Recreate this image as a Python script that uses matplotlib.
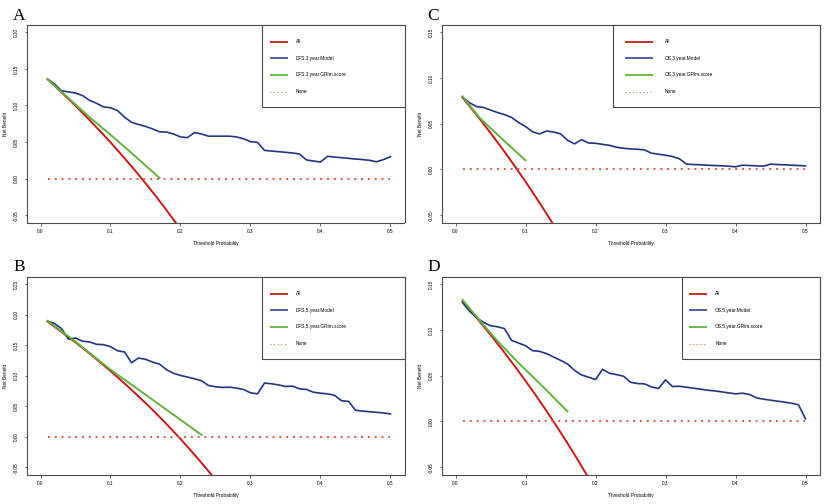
"""Decision curve analysis, four panels (DFS / OS at 3 and 5 years)."""

import matplotlib

matplotlib.use("Agg")
import matplotlib.pyplot as plt
from matplotlib.patches import Rectangle

plt.rcParams["font.family"] = ["Liberation Sans", "DejaVu Sans"]
plt.rcParams["axes.unicode_minus"] = False

# ---------------------------------------------------------------- data
thresholds = [
    0.01, 0.02, 0.03, 0.04, 0.05, 0.06, 0.07, 0.08, 0.09, 0.10,
    0.11, 0.12, 0.13, 0.14, 0.15, 0.16, 0.17, 0.18, 0.19, 0.20,
    0.21, 0.22, 0.23, 0.24, 0.25, 0.26, 0.27, 0.28, 0.29, 0.30,
    0.31, 0.32, 0.33, 0.34, 0.35, 0.36, 0.37, 0.38, 0.39, 0.40,
    0.41, 0.42, 0.43, 0.44, 0.45, 0.46, 0.47, 0.48, 0.49, 0.50,
]
none_x = [0.01, 0.50]
none_y = [0.0, 0.0]

# A: DFS 3 year
model_a = [
    0.136, 0.1295, 0.120, 0.1186, 0.117, 0.1136, 0.107, 0.103, 0.098, 0.097,
    0.093, 0.084, 0.077, 0.074, 0.0714, 0.068, 0.064, 0.0636, 0.061, 0.057,
    0.056, 0.063, 0.061, 0.058, 0.058, 0.058, 0.058, 0.057, 0.0545, 0.0505,
    0.0495, 0.0386, 0.0377, 0.0368, 0.036, 0.035, 0.0336, 0.0255, 0.024, 0.0227,
    0.0305, 0.0295, 0.0286, 0.0277, 0.0268, 0.026, 0.025, 0.023, 0.026, 0.030,
]
all_a_x = [0.01, 0.03, 0.05, 0.07, 0.10, 0.125, 0.1375, 0.15, 0.1625,
           0.175, 0.1875, 0.20]
all_a_y = [0.136, 0.118, 0.0996, 0.0802, 0.0496, 0.0224, 0.0083, -0.0064,
           -0.0213, -0.0368, -0.0528, -0.0693]
score_a_x = [0.01, 0.04, 0.07, 0.10, 0.13, 0.17]
score_a_y = [0.136, 0.110, 0.084, 0.060, 0.035, 0.001]
labels_a = ["All", "DFS.3.year.Model", "DFS.3.year.GRIm.score", "None"]

# B: DFS 5 year
model_b = [
    0.1896, 0.1857, 0.1775, 0.160, 0.162, 0.1566, 0.1555, 0.1516, 0.151, 0.1478,
    0.141, 0.139, 0.1214, 0.129, 0.127, 0.1225, 0.119, 0.110, 0.104, 0.1005,
    0.0978, 0.095, 0.0918, 0.084, 0.0819, 0.0808, 0.0813, 0.0797, 0.0775, 0.072,
    0.0703, 0.088, 0.0868, 0.085, 0.0824, 0.083, 0.0786, 0.0775, 0.073, 0.0714,
    0.0703, 0.068, 0.059, 0.058, 0.0434, 0.042, 0.041, 0.040, 0.039, 0.0374,
]
all_b_x = [0.01, 0.05, 0.075, 0.10, 0.125, 0.15, 0.1625, 0.175, 0.1875,
           0.20, 0.2125, 0.225, 0.2375, 0.25]
all_b_y = [0.189, 0.1547, 0.1319, 0.1078, 0.0823, 0.0553, 0.0412, 0.0267,
           0.0117, -0.0038, -0.0197, -0.0361, -0.0531, -0.0707]
score_b_x = [0.01, 0.05, 0.10, 0.15, 0.19, 0.23]
score_b_y = [0.190, 0.156, 0.110, 0.069, 0.036, 0.003]
labels_b = ["All", "DFS.5.year.Model", "DFS.5.year.GRIm.score", "None"]

# C: OS 3 year
model_c = [
    0.079, 0.073, 0.0688, 0.0678, 0.065, 0.0623, 0.060, 0.057, 0.0514, 0.047,
    0.0413, 0.0388, 0.042, 0.041, 0.039, 0.032, 0.028, 0.0326, 0.029, 0.0286,
    0.0275, 0.0264, 0.0243, 0.0232, 0.0225, 0.0221, 0.0214, 0.0178, 0.0167, 0.0156,
    0.0141, 0.0116, 0.0058, 0.0054, 0.0051, 0.0047, 0.0043, 0.004, 0.0036, 0.0029,
    0.0047, 0.0043, 0.004, 0.0036, 0.0058, 0.0054, 0.0051, 0.0047, 0.0043, 0.004,
]
all_c_x = [0.01, 0.03, 0.05, 0.07, 0.08, 0.09, 0.10, 0.11, 0.12, 0.13,
           0.14, 0.15]
all_c_y = [0.0788, 0.0598, 0.040, 0.0194, 0.0087, -0.0022, -0.0133, -0.0247,
           -0.0364, -0.0483, -0.0605, -0.073]
score_c_x = [0.01, 0.035, 0.07, 0.10]
score_c_y = [0.080, 0.056, 0.031, 0.010]
labels_c = ["All", "OS.3.year.Model", "OS.3.year.GRIm.score", "None"]

# D: OS 5 year
model_d = [
    0.130, 0.1207, 0.1135, 0.1084, 0.1047, 0.1036, 0.1015, 0.0887, 0.0858, 0.0829,
    0.0775, 0.0767, 0.0742, 0.0705, 0.0669, 0.0629, 0.056, 0.0509, 0.0484, 0.0458,
    0.0571, 0.0527, 0.0513, 0.0495, 0.0429, 0.0415, 0.0411, 0.0378, 0.036, 0.0455,
    0.0382, 0.0385, 0.0375, 0.0364, 0.0353, 0.0342, 0.0335, 0.0324, 0.0313, 0.0302,
    0.0309, 0.0295, 0.0258, 0.0244, 0.0233, 0.0222, 0.0211, 0.020, 0.0182, 0.0029,
]
all_d_x = [0.01, 0.025, 0.04, 0.055, 0.07, 0.085, 0.10, 0.115, 0.13,
           0.145, 0.16, 0.175, 0.19]
all_d_y = [0.1313, 0.1180, 0.1042, 0.0900, 0.0753, 0.0601, 0.0444, 0.0283,
           0.0115, -0.0059, -0.0238, -0.0424, -0.0617]
score_d_x = [0.01, 0.035, 0.06, 0.09, 0.125, 0.16]
score_d_y = [0.133, 0.110, 0.088, 0.064, 0.038, 0.011]
labels_d = ["All", "OS.5.year.Model", "OS.5.year.GRIm.score", "None"]

x_ticks = [0.0, 0.1, 0.2, 0.3, 0.4, 0.5]
y_ticks_a = [-0.05, 0.00, 0.05, 0.10, 0.15, 0.20]
y_ticks_b = [-0.05, 0.00, 0.05, 0.10, 0.15, 0.20, 0.25]
y_ticks_cd = [-0.05, 0.00, 0.05, 0.10, 0.15]

# ---------------------------------------------------------------- style
RED = "#CC1818"
BLUE = "#22367E"
GREEN = "#62B23E"
NONE_RED = "#E2574F"
FRAME = "#4A4A4A"
SMALL = 3.4

W, H = 824, 504


def draw_legend(ax, labels, box_left, handle_left, handle_right, text_left):
    """R style legend box glued to the top right corner of the axes."""
    ax.add_patch(Rectangle((box_left, 0.585), 1 - box_left, 0.415,
                           transform=ax.transAxes, facecolor="white",
                           edgecolor=FRAME, linewidth=0.8, zorder=5,
                           clip_on=False))
    rows = [0.915, 0.831, 0.747, 0.663]
    styles = [
        dict(color=RED, lw=1.3),
        dict(color=BLUE, lw=1.1),
        dict(color=GREEN, lw=1.3),
        dict(color=NONE_RED, lw=0.72, dashes=(1.0, 2.6)),
    ]
    for row, label, style in zip(rows, labels, styles):
        ax.plot([handle_left, handle_right], [row, row],
                transform=ax.transAxes, zorder=6, solid_capstyle="butt",
                **style)
        ax.text(text_left, row, label, transform=ax.transAxes,
                fontsize=SMALL, va="center", ha="left", zorder=6)


def draw_panel(fig, rect, letter, letter_xy, model, all_x, all_y,
               score_x, score_y, labels, y_ticks, legend_pos):
    ax = fig.add_axes(rect)
    ax.plot(all_x, all_y, color=RED, lw=1.4)
    ax.plot(thresholds, model, color=BLUE, lw=1.2)
    ax.plot(score_x, score_y, color=GREEN, lw=1.4)
    ax.plot(none_x, none_y, color=NONE_RED, lw=1.4, dashes=(1.0, 2.5))

    ax.set_xlim(-0.02, 0.52)
    span = y_ticks[-1] - y_ticks[0]
    ax.set_ylim(y_ticks[0] - 0.04 * span, y_ticks[-1] + 0.04 * span)
    ax.set_xticks(x_ticks)
    ax.set_xticklabels([f"{v:.1f}" for v in x_ticks])
    ax.set_yticks(y_ticks)
    ax.set_yticklabels([f"{v:.2f}" for v in y_ticks], rotation=90, va="center")

    for spine in ax.spines.values():
        spine.set_color(FRAME)
        spine.set_linewidth(0.8)
    ax.tick_params(axis="both", direction="out", length=1.8, width=0.6,
                   color=FRAME, labelsize=SMALL)
    ax.tick_params(axis="x", pad=2.7)
    ax.tick_params(axis="y", pad=3.4)

    ax.set_xlabel("Threshold Probability", fontsize=SMALL)
    ax.set_ylabel("Net Benefit", fontsize=SMALL)
    ax.xaxis.set_label_coords(0.5, -0.093)
    ax.yaxis.set_label_coords(-0.048, 0.5)

    draw_legend(ax, labels, *legend_pos)

    fig.text(letter_xy[0] / W, 1 - letter_xy[1] / H, letter,
             family=["Liberation Serif", "DejaVu Serif"], fontsize=12.5,
             ha="left", va="baseline")
    return ax


def main():
    fig = plt.figure(figsize=(W / 100, H / 100), dpi=100)
    fig.patch.set_facecolor("white")

    ax_w = 378 / W
    ax_h = 197.5 / H
    left_col = 26.5 / W
    right_col = 441.5 / W
    top_row = 1 - 222.5 / H
    bottom_row = 1 - 474.5 / H

    draw_panel(fig, [left_col, top_row, ax_w, ax_h], "A", (13, 19.5),
               model_a, all_a_x, all_a_y, score_a_x, score_a_y, labels_a,
               y_ticks_a, (0.622, 0.644, 0.692, 0.713))
    draw_panel(fig, [right_col, top_row, ax_w, ax_h], "C", (427, 19.5),
               model_c, all_c_x, all_c_y, score_c_x, score_c_y, labels_c,
               y_ticks_cd, (0.454, 0.485, 0.559, 0.591))
    draw_panel(fig, [left_col, bottom_row, ax_w, ax_h], "B", (13, 271),
               model_b, all_b_x, all_b_y, score_b_x, score_b_y, labels_b,
               y_ticks_b, (0.622, 0.644, 0.692, 0.713))
    draw_panel(fig, [right_col, bottom_row, ax_w, ax_h], "D", (427, 271),
               model_d, all_d_x, all_d_y, score_d_x, score_d_y, labels_d,
               y_ticks_cd, (0.635, 0.655, 0.702, 0.724))

    fig.savefig("out.png", dpi=100)
    plt.close(fig)


if __name__ == "__main__":
    main()
